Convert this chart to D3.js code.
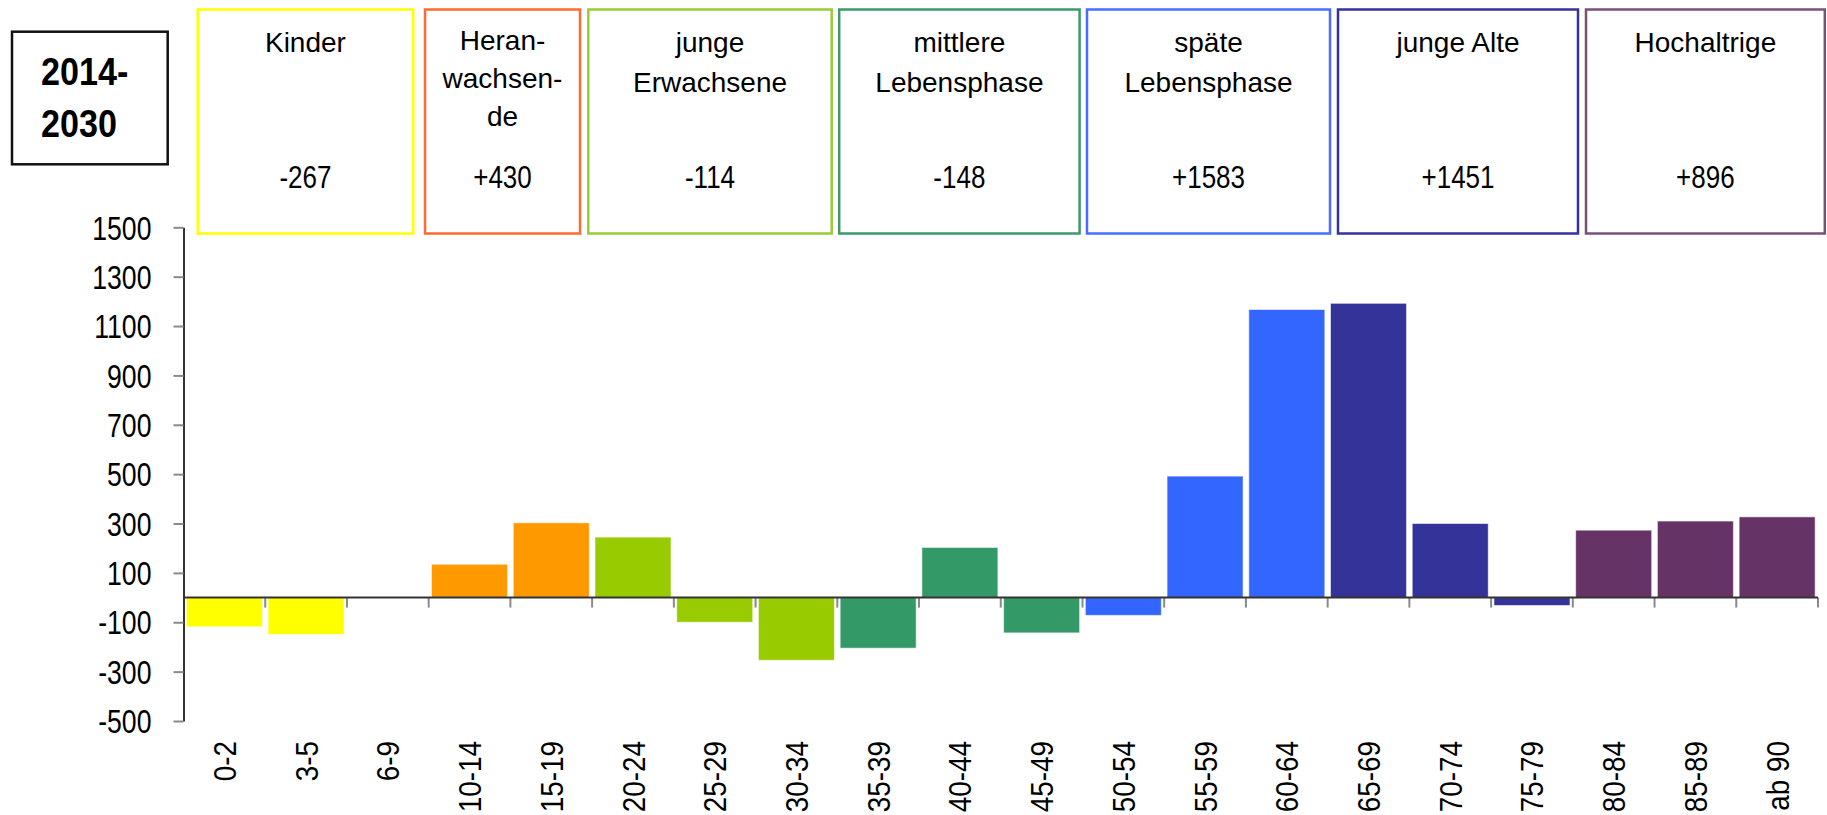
<!DOCTYPE html>
<html>
<head>
<meta charset="utf-8">
<script src="https://cdn.jsdelivr.net/npm/d3@7"></script>
<style>
  html, body { margin: 0; padding: 0; background: #ffffff; }
  svg { display: block; font-family: "Liberation Sans", Arial, sans-serif; }
</style>
</head>
<body>
<svg id="chart" width="1827" height="815"></svg>
<script>
// ---------- data ----------
const ageGroups = ["0-2","3-5","6-9","10-14","15-19","20-24","25-29","30-34","35-39","40-44",
                   "45-49","50-54","55-59","60-64","65-69","70-74","75-79","80-84","85-89","ab 90"];
const changes   = [-118,-149,0,135,303,245,-100,-254,-205,203,
                   -143,-72,492,1167,1192,300,-32,273,310,327];
const phaseOfAge = [0,0,0,1,1,2,2,2,3,3,3,4,4,4,5,5,5,6,6,6];
const phaseNames = [["Kinder"],["Heran-","wachsen-","de"],["junge","Erwachsene"],
                    ["mittlere","Lebensphase"],["späte","Lebensphase"],["junge Alte"],["Hochaltrige"]];
const phaseTotals = ["-267","+430","-114","-148","+1583","+1451","+896"];
const yTicks = [-500,-300,-100,100,300,500,700,900,1100,1300,1500];
const periodLabel = ["2014-","2030"];

// ---------- styles ----------
const barColors    = ["#ffff00","#ff9900","#99cc00","#339966","#3366ff","#333399","#663366"];
const borderColors = ["#ffff00","#ff6a30","#99cc33","#3a9a6a","#4a6cff","#333399","#7a5078"];
// header box horizontal extents (layout)
const boxLayout = [[197.7,413.2],[425,580],[588.3,831.7],[839.2,1079.6],[1087,1330],[1338,1578],[1586,1824.8]];

const svg = d3.select("#chart");

// ---------- scales ----------
const x = d3.scaleBand().domain(ageGroups).range([183.5, 1818]).paddingInner(0.07).paddingOuter(0.035);
const y = d3.scaleLinear().domain([-500, 1500]).range([721, 227.3]);

// ---------- header ----------
const yearG = svg.append("g");
yearG.append("rect").attr("x",12).attr("y",31.7).attr("width",155.7).attr("height",132.6)
  .attr("fill","none").attr("stroke","#111").attr("stroke-width",2.5);
periodLabel.forEach((t,i)=>{
  yearG.append("text").text(t)
    .attr("transform",`translate(41,${85 + i*51.7}) scale(0.875,1)`)
    .attr("font-size",39).attr("font-weight","bold").attr("fill","#000");
});

const hdr = svg.append("g");
phaseNames.forEach((lines,i)=>{
  const [x0,x1] = boxLayout[i];
  const cx = (x0+x1)/2;
  hdr.append("rect").attr("x",x0).attr("y",9.5).attr("width",x1-x0).attr("height",224)
    .attr("fill","none").attr("stroke",borderColors[i]).attr("stroke-width",2.5);
  const sp = lines.length === 3 ? 38 : 40;
  const b0 = lines.length === 3 ? 49.5 : 52;
  lines.forEach((ln,j)=>{
    hdr.append("text").text(ln).attr("x",cx).attr("y",b0 + j*sp)
      .attr("text-anchor","middle").attr("font-size",28).attr("fill","#000");
  });
  hdr.append("text").text(phaseTotals[i])
    .attr("transform",`translate(${cx},187.5) scale(0.84,1)`)
    .attr("text-anchor","middle").attr("font-size",31).attr("fill","#000");
});

// ---------- bars ----------
svg.append("g").selectAll("rect").data(ageGroups).join("rect")
  .attr("x", d => x(d))
  .attr("width", x.bandwidth())
  .attr("y", (d,i) => y(Math.max(0, changes[i])))
  .attr("height", (d,i) => Math.abs(y(changes[i]) - y(0)))
  .attr("fill", (d,i) => barColors[phaseOfAge[i]])
  .attr("stroke", (d,i) => changes[i] === 0 ? "none" : "rgba(255,255,255,0.55)")
  .attr("stroke-width", 1);

// ---------- x category boundary ticks ----------
const step = x.step();
const boundaries = ageGroups.map(d => x(d) - x.paddingInner()*step/2).slice(1)
  .concat([x(ageGroups[ageGroups.length-1]) + x.bandwidth() + x.paddingInner()*step/2]);
svg.append("g").selectAll("line").data(boundaries).join("line")
  .attr("x1", d=>d).attr("x2", d=>d)
  .attr("y1", y(0)).attr("y2", y(0)+10)
  .attr("stroke","#8a8a8a").attr("stroke-width",2);

// zero line
svg.append("line").attr("x1",183.5).attr("x2",1818).attr("y1",y(0)).attr("y2",y(0))
  .attr("stroke","#333").attr("stroke-width",2);

// ---------- x labels (rotated, top-aligned at labelTop) ----------
const labelTop = 741, sx = 0.87;
const xAxis = svg.append("g").attr("transform","translate(0,0)")
  .call(d3.axisBottom(x).tickSize(0));
xAxis.select(".domain").remove();
xAxis.selectAll("text")
  .attr("x",0).attr("y",0).attr("dy","0.36em")
  .attr("text-anchor","start")
  .attr("font-size",32).attr("fill","#000")
  .style("font-family",'"Liberation Sans", Arial, sans-serif')
  .each(function(){
    const len = this.getComputedTextLength() * sx;
    d3.select(this).attr("transform", `translate(0,${labelTop + len}) rotate(-90) scale(${sx},1)`);
  });

// ---------- y axis ----------
const yAxis = svg.append("g").attr("transform","translate(183.5,0)")
  .call(d3.axisLeft(y).tickValues(yTicks).tickFormat(d => String(d)).tickSize(10).tickSizeOuter(0));
yAxis.select(".domain").attr("stroke","#333").attr("stroke-width",2);
yAxis.selectAll(".tick line").attr("stroke","#8a8a8a").attr("stroke-width",2);
yAxis.selectAll("text")
  .attr("x",0).attr("dy","0.36em")
  .attr("transform","translate(-32,0) scale(0.82,1)")
  .attr("text-anchor","end")
  .attr("font-size",32.5).attr("fill","#000")
  .style("font-family",'"Liberation Sans", Arial, sans-serif');
</script>
</body>
</html>
